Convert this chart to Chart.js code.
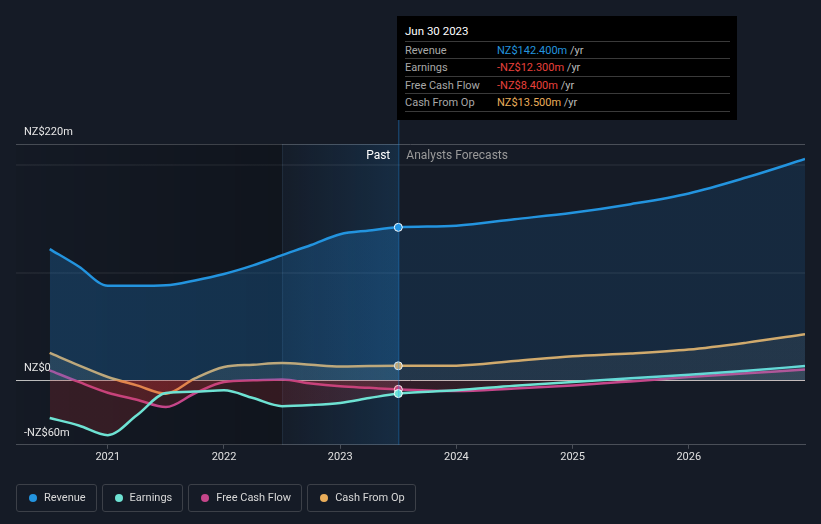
<!DOCTYPE html>
<html>
<head>
<meta charset="utf-8">
<script src="https://cdn.jsdelivr.net/npm/chart.js@4"></script>
<style>
  body { margin: 0; background: #151b26; font-family: Roboto, "Noto Sans", sans-serif; }
  #wrap { position: relative; width: 821px; height: 524px; }
  #chart { position: absolute; left: 0; top: 0; }
  .tip { position: absolute; left: 397px; top: 16px; width: 340px; height: 104px; background: #000; color: #ddd; font-size: 11px; }
  .tip .title { position: absolute; left: 8px; top: 8px; color: #fff; font-size: 11.5px; }
  .tip .row { position: absolute; left: 8px; width: 325px; height: 17px; border-top: 1px solid #3a3a3a; }
  .tip .row > span { position: absolute; top: 2px; white-space: nowrap; }
  .tip .lab { left: 0; color: #a8a8a8; }
  .tip .val { left: 92px; }
  .tip .unit { color: #bbb; }
  .legend { position: absolute; top: 484px; left: 16px; display: flex; gap: 5px; }
  .legend div { height: 26px; border: 1px solid #3c4048; border-radius: 3px; color: #d8d8d8; font-size: 11px; line-height: 26px; padding: 0 10px 0 27px; position: relative; }
  .legend i { position: absolute; left: 12px; top: 9px; width: 8px; height: 8px; border-radius: 50%; }
</style>
</head>
<body>
<div id="wrap">
  <canvas id="chart" width="821" height="524"></canvas>
  <div class="tip">
    <div class="title">Jun 30 2023</div>
    <div class="row" style="top:25px"><span class="lab">Revenue</span><span class="val"><span style="color:#2394df">NZ$142.400m</span> <span class="unit">/yr</span></span></div>
    <div class="row" style="top:42px"><span class="lab">Earnings</span><span class="val"><span style="color:#e8413c">-NZ$12.300m</span> <span class="unit">/yr</span></span></div>
    <div class="row" style="top:60px"><span class="lab">Free Cash Flow</span><span class="val"><span style="color:#e8413c">-NZ$8.400m</span> <span class="unit">/yr</span></span></div>
    <div class="row" style="top:77px; border-bottom:1px solid #3a3a3a"><span class="lab">Cash From Op</span><span class="val"><span style="color:#e9ad5a">NZ$13.500m</span> <span class="unit">/yr</span></span></div>
  </div>
  <div class="legend">
    <div><i style="background:#2394df"></i>Revenue</div>
    <div><i style="background:#6ee2d3"></i>Earnings</div>
    <div><i style="background:#c5468a"></i>Free Cash Flow</div>
    <div><i style="background:#e9ad5a"></i>Cash From Op</div>
  </div>
</div>
<script>
// Values in NZ$ millions, x as decimal years
const years = [2020.5, 2020.75, 2021.0, 2021.25, 2021.5, 2021.75, 2022.0, 2022.25, 2022.5, 2022.75, 2023.0, 2023.25, 2023.5, 2024.0, 2024.5, 2025.0, 2025.5, 2026.0, 2026.5, 2027.0];
const revenue = [122.2, 106, 88, 88, 88.5, 93, 99, 107, 116.6, 126, 136, 139.5, 142.4, 144, 150, 156, 164, 174, 189, 206];
const earnings = [-35, -42, -51, -32.5, -11.8, -10.5, -9.3, -16.5, -24, -23, -21, -16.5, -12.3, -9.3, -5, -1.5, 2, 5.3, 9, 13.3];
const freeCashFlow = [9.3, -1.5, -11.5, -18, -24.9, -12, -1.5, 0, 0.9, -3, -5.6, -7, -8.4, -10, -7.5, -4.7, -1, 3, 6.5, 10];
const cashFromOp = [25.5, 14, 3.1, -4.7, -12.4, 1.8, 12.4, 14.5, 16.1, 14.5, 13, 13.3, 13.5, 13.7, 18, 22.4, 24.9, 28.6, 35.1, 42.9];
const xTicks = [2021, 2022, 2023, 2024, 2025, 2026];
const yGrid = [-60, 0, 100, 200, 220];
const yLabels = [[220, 'NZ$220m'], [0, 'NZ$0'], [-60, '-NZ$60m']];
const nowX = 2023.5;
const bandStart = 2022.5;

function toPoints(values) {
    return values.map((v, i) => ({ x: years[i], y: v }));
}

// Marker only at the "now" point
function markerRadius(ctx) {
    return ctx.raw && ctx.raw.x === nowX ? 4 : 0;
}

function makeSeries(label, values, color) {
    return {
        label: label,
        data: toPoints(values),
        borderColor: color,
        backgroundColor: color,
        borderWidth: 2.5,
        pointRadius: markerRadius,
        pointBorderColor: '#ffffff',
        pointBorderWidth: 1,
        pointBackgroundColor: color,
        cubicInterpolationMode: 'monotone',
        fill: 'origin'
    };
}

// Background regions, divider lines and captions
const regionsPlugin = {
    id: 'regions',
    beforeDatasetsDraw(chart) {
        const { ctx, chartArea: a, scales: { x } } = chart;
        const xb = x.getPixelForValue(bandStart);
        const xn = x.getPixelForValue(nowX);
        ctx.save();
        let g = ctx.createLinearGradient(a.left, 0, xb, 0);
        g.addColorStop(0, 'rgba(0,0,0,0.03)');
        g.addColorStop(1, 'rgba(0,0,0,0.22)');
        ctx.fillStyle = g;
        ctx.fillRect(a.left, a.top, xb - a.left, a.bottom - a.top);
        g = ctx.createLinearGradient(xb, 0, xn, 0);
        g.addColorStop(0, 'rgba(33,150,243,0.02)');
        g.addColorStop(1, 'rgba(33,150,243,0.14)');
        ctx.fillStyle = g;
        ctx.fillRect(xb, a.top, xn - xb, a.bottom - a.top);
        ctx.strokeStyle = 'rgba(120,170,220,0.12)';
        ctx.lineWidth = 1;
        ctx.beginPath();
        ctx.moveTo(xb + 0.5, a.top);
        ctx.lineTo(xb + 0.5, a.bottom);
        ctx.stroke();
        ctx.restore();
    },
    afterDatasetsDraw(chart) {
        const { ctx, chartArea: a, scales: { x, y } } = chart;
        const xn = x.getPixelForValue(nowX);
        ctx.save();
        ctx.strokeStyle = 'rgba(33,150,243,0.45)';
        ctx.lineWidth = 1;
        ctx.beginPath();
        ctx.moveTo(xn + 0.5, 16);
        ctx.lineTo(xn + 0.5, a.bottom);
        ctx.stroke();
        ctx.font = '12px Roboto';
        ctx.textBaseline = 'middle';
        ctx.textAlign = 'right';
        ctx.fillStyle = '#ffffff';
        ctx.fillText('Past', xn - 8, a.top + 12);
        ctx.textAlign = 'left';
        ctx.fillStyle = '#9a9a9a';
        ctx.fillText('Analysts Forecasts', xn + 8, a.top + 12);
        ctx.font = '11px Roboto';
        ctx.fillStyle = '#e6e6e6';
        yLabels.forEach(([v, t]) => {
            ctx.fillText(t, a.left + 8, y.getPixelForValue(v) - 12);
        });
        ctx.restore();
    }
};

function gridColor(ctx) {
    const v = ctx.tick && ctx.tick.value;
    if (v === 0) return '#c4c4c4';
    if (v === 220) return '#4a4f58';
    if (v === -60) return 'rgba(0,0,0,0)';
    return 'rgba(255,255,255,0.05)';
}

const chart = new Chart(document.getElementById('chart'), {
    type: 'line',
    data: {
        datasets: [
            makeSeries('Revenue', revenue, '#2394df'),
            makeSeries('Earnings', earnings, '#6ee2d3'),
            makeSeries('Free Cash Flow', freeCashFlow, '#c5468a'),
            makeSeries('Cash From Op', cashFromOp, '#e9ad5a')
        ]
    },
    options: {
        responsive: false,
        animation: false,
        layout: { padding: { left: 16, right: 16, top: 144, bottom: 58 } },
        plugins: { legend: { display: false }, tooltip: { enabled: false } },
        scales: {
            x: {
                type: 'linear',
                min: 2020.21,
                max: 2027.0,
                afterBuildTicks: (scale) => { scale.ticks = xTicks.map(v => ({ value: v })); },
                ticks: { color: '#e0e0e0', font: { family: 'Roboto', size: 11 }, padding: 2, maxRotation: 0, callback: (v) => String(v) },
                grid: { drawOnChartArea: false, drawTicks: true, tickLength: 4, tickColor: '#4a4f58' },
                border: { color: '#4a4f58' }
            },
            y: {
                min: -60,
                max: 220,
                afterBuildTicks: (scale) => { scale.ticks = yGrid.map(v => ({ value: v })); },
                ticks: { display: false },
                grid: { color: gridColor, lineWidth: (c) => (c.tick && (c.tick.value === 100 || c.tick.value === 200)) ? 2 : 1, drawTicks: false },
                border: { display: false }
            }
        }
    },
    plugins: [regionsPlugin]
});

// Past / forecast fills need the pixel of the "now" line, so set them after layout
function horizGrad(c, left, right, frac, past, future) {
    const g = c.ctx.createLinearGradient(left, 0, right, 0);
    g.addColorStop(0, past);
    g.addColorStop(frac, past);
    g.addColorStop(Math.min(frac + 0.001, 1), future);
    g.addColorStop(1, future);
    return g;
}
const area = chart.chartArea;
const frac = (chart.scales.x.getPixelForValue(nowX) - area.left) / (area.right - area.left);
const fills = [
    ['rgba(33,150,243,0.22)', 'rgba(33,150,243,0.12)', 'rgba(200,50,50,0.2)', 'rgba(200,50,50,0.1)'],
    ['rgba(150,150,130,0.10)', 'rgba(170,170,170,0.08)', 'rgba(210,50,50,0.18)', 'rgba(210,50,50,0.08)'],
    ['rgba(150,150,130,0.10)', 'rgba(170,170,170,0.08)', 'rgba(210,50,50,0.18)', 'rgba(210,50,50,0.08)'],
    ['rgba(160,160,130,0.16)', 'rgba(170,170,170,0.10)', 'rgba(210,50,50,0.18)', 'rgba(210,50,50,0.08)']
];
chart.data.datasets.forEach((ds, i) => {
    const f = fills[i];
    ds.fill = {
        target: 'origin',
        above: horizGrad(chart, area.left, area.right, frac, f[0], f[1]),
        below: horizGrad(chart, area.left, area.right, frac, f[2], f[3])
    };
});
chart.update();
</script>
</body>
</html>
